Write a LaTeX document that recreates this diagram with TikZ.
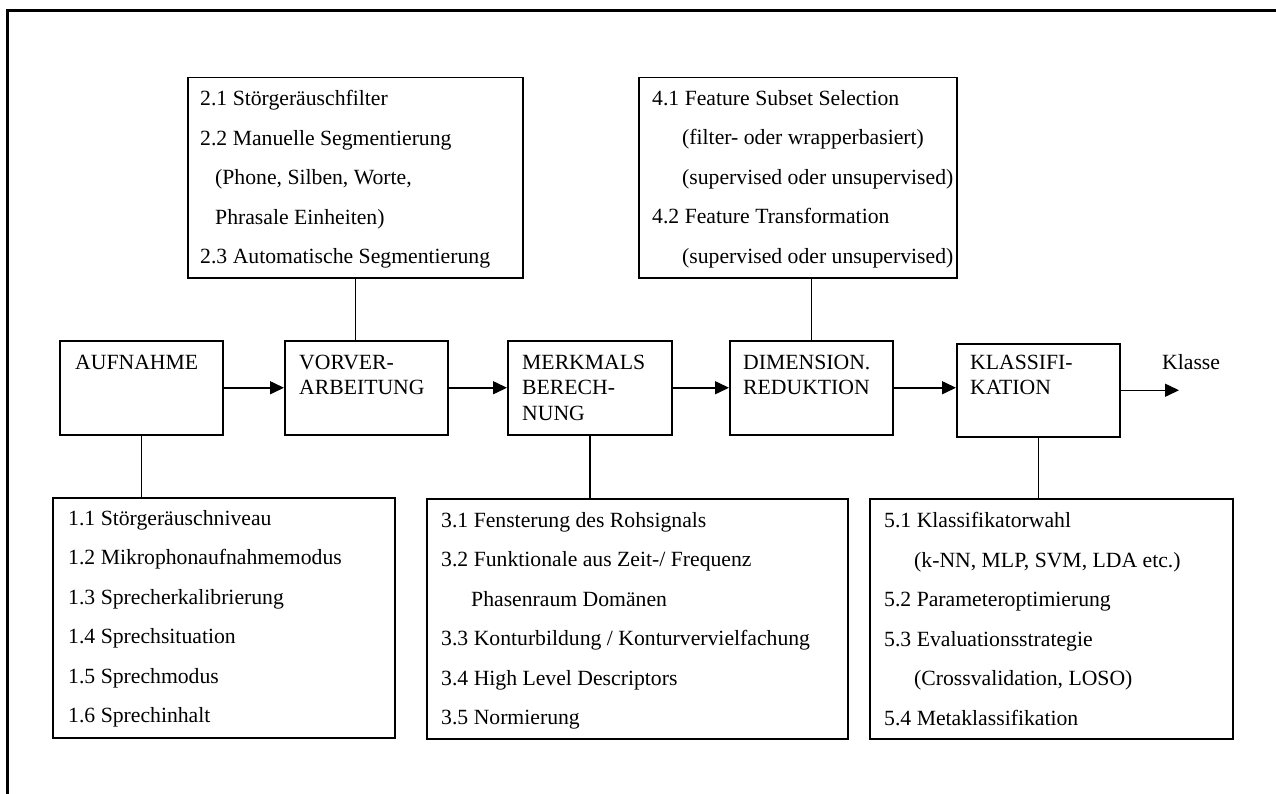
\documentclass[tikz,border=0pt]{standalone}
\usepackage{fontspec}
\setmainfont{Liberation Serif}
\usetikzlibrary{arrows.meta}
\begin{document}
\begin{tikzpicture}[x=1pt,y=-1pt,
  box/.style={draw,line width=1.5pt,rectangle,anchor=north west,inner sep=0pt},
  stage/.style={font=\fontsize{21.7}{25.5}\selectfont,align=left,anchor=north west,inner sep=0pt},
  list/.style={font=\fontsize{21.7}{39.5}\selectfont,align=left,anchor=north west,inner sep=0pt},
  link/.style={line width=1.5pt},
  arr/.style={line width=1.5pt,-{Triangle[length=14pt,width=13pt]}}]
\useasboundingbox (0,0) rectangle (1276,794);
% outer frame
\draw[line width=2.5pt] (7.3,800) |- (1285,10.7);

% processing stages
\node[box,minimum width=163pt,minimum height=94pt] (auf) at (59,340) {};
\node[box,minimum width=163pt,minimum height=94pt] (vor) at (284,340) {};
\node[box,minimum width=164pt,minimum height=94pt] (mer) at (507,340) {};
\node[box,minimum width=163pt,minimum height=94pt] (dim) at (729,340) {};
\node[box,minimum width=163pt,minimum height=93pt] (kla) at (956,343) {};

\node[stage] (tauf) at (75,354.6) {AUFNAHME};
\node[stage] (tvor) at (299,354.6) {VORVER-\\ARBEITUNG};
\node[stage] (tmer) at (522,354.6) {MERKMALS\\BERECH-\\NUNG};
\node[stage] (tdim) at (743,354.6) {DIMENSION.\\REDUKTION};
\node[stage] (tkla) at (970,354.6) {KLASSIFI-\\KATION};
\node[font=\fontsize{21.7}{25.5}\selectfont,anchor=base west,inner sep=0pt] (out) at (1162,369) {Klasse};
\coordinate (outend) at (1179,387);

% detail boxes
\node[box,minimum width=335pt,minimum height=200pt] (lst2) at (187,77) {};
\node[box,minimum width=318pt,minimum height=200pt] (lst4) at (638,77) {};
\node[box,minimum width=342pt,minimum height=240pt] (lst1) at (52,497) {};
\node[box,minimum width=421pt,minimum height=240pt] (lst3) at (426,498) {};
\node[box,minimum width=363pt,minimum height=240pt] (lst5) at (869,498) {};

\node[list] (tl2) at (200,90.2) {2.1 Störgeräuschfilter\\
2.2 Manuelle Segmentierung\\
\hspace*{15pt}(Phone, Silben, Worte,\\
\hspace*{15pt}Phrasale Einheiten)\\
2.3 Automatische Segmentierung};
\node[list] (tl4) at (652,90.2) {4.1 Feature Subset Selection\\
\hspace*{30pt}(filter- oder wrapperbasiert)\\
\hspace*{30pt}(supervised oder unsupervised)\\
4.2 Feature Transformation\\
\hspace*{30pt}(supervised oder unsupervised)};
\node[list] (tl1) at (68,510.2) {1.1 Störgeräuschniveau\\
1.2 Mikrophonaufnahmemodus\\
1.3 Sprecherkalibrierung\\
1.4 Sprechsituation\\
1.5 Sprechmodus\\
1.6 Sprechinhalt};
\node[list] (tl3) at (441,512.2) {3.1 Fensterung des Rohsignals\\
3.2 Funktionale aus Zeit-/ Frequenz\\
\hspace*{30pt}Phasenraum Domänen\\
3.3 Konturbildung / Konturvervielfachung\\
3.4 High Level Descriptors\\
3.5 Normierung};
\node[list] (tl5) at (884,512.2) {5.1 Klassifikatorwahl\\
\hspace*{30pt}(k-NN, MLP, SVM, LDA etc.)\\
5.2 Parameteroptimierung\\
5.3 Evaluationsstrategie\\
\hspace*{30pt}(Crossvalidation, LOSO)\\
5.4 Metaklassifikation};

% flow arrows
\draw[arr] (auf.east) -- (auf.east -| vor.west);
\draw[arr] (vor.east) -- (vor.east -| mer.west);
\draw[arr] (mer.east) -- (mer.east -| dim.west);
\draw[arr] (dim.east) -- (dim.east -| kla.west);
\draw[arr] (kla.east) -- (kla.east -| outend);

% links to detail boxes
\draw[link] (lst2.south) -- (lst2.south |- vor.north);
\draw[link] (dim.north) -- (dim.north |- lst4.south);
\draw[link] (auf.south) -- (auf.south |- lst1.north);
\draw[link] (mer.south) -- (mer.south |- lst3.north);
\draw[link] (kla.south) -- (kla.south |- lst5.north);
\end{tikzpicture}
\end{document}
